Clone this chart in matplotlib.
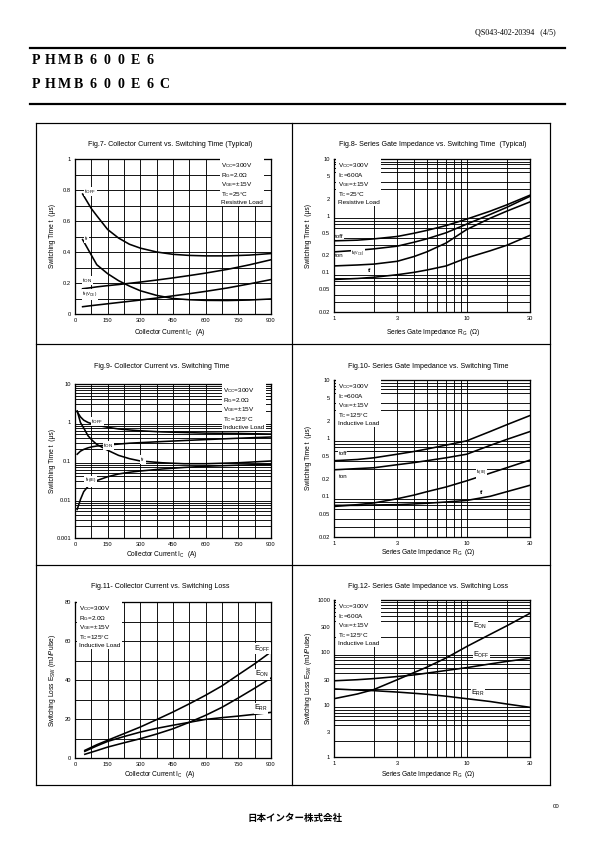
import matplotlib
matplotlib.use("Agg")
import matplotlib.pyplot as plt
from matplotlib.lines import Line2D
from matplotlib.ticker import FixedLocator, NullFormatter, LogLocator, MultipleLocator

plt.rcParams['font.family'] = ['Liberation Sans', 'DejaVu Sans']
plt.rcParams['mathtext.default'] = 'regular'

W, H = 595, 842

# ---------------- data ----------------
# Fig.7 Collector current vs switching time (typical, resistive, 25C)
ic7 = [35, 75, 100, 150, 200, 250, 300, 375, 450, 525, 600, 700, 800, 900]
toff7 = [0.774, 0.68, 0.634, 0.545, 0.49, 0.45, 0.425, 0.40, 0.385, 0.378, 0.375, 0.375, 0.38, 0.39]
tf7 = [0.48, 0.38, 0.318, 0.26, 0.215, 0.18, 0.15, 0.12, 0.10, 0.092, 0.088, 0.087, 0.09, 0.097]
ton7 = [0.163, 0.17, 0.175, 0.183, 0.19, 0.198, 0.206, 0.219, 0.233, 0.248, 0.264, 0.288, 0.317, 0.35]
tr7 = [0.047, 0.054, 0.058, 0.066, 0.074, 0.082, 0.09, 0.103, 0.117, 0.131, 0.146, 0.168, 0.194, 0.222]

# Fig.8 Series gate impedance vs switching time (typical, resistive, 25C)
rg8 = [1, 1.5, 2, 3, 4, 5, 7, 10, 15, 20, 30]
toff8 = [0.36, 0.37, 0.39, 0.43, 0.49, 0.55, 0.67, 0.87, 1.2, 1.55, 2.3]
ton8 = [0.23, 0.245, 0.26, 0.29, 0.34, 0.39, 0.5, 0.71, 1.05, 1.4, 2.2]
tr8 = [0.13, 0.135, 0.14, 0.157, 0.19, 0.23, 0.33, 0.57, 0.9, 1.2, 1.75]
tf8 = [0.075, 0.078, 0.082, 0.091, 0.1, 0.11, 0.13, 0.18, 0.24, 0.3, 0.45]

# Fig.9 Collector current vs switching time (inductive, 125C)
ic9 = [10, 25, 40, 60, 80, 100, 150, 200, 250, 300, 400, 500, 600, 750, 900]
toff9 = [1.9, 1.4, 1.15, 1.0, 0.92, 0.85, 0.75, 0.68, 0.64, 0.61, 0.57, 0.55, 0.53, 0.52, 0.5]
ton9 = [0.15, 0.18, 0.2, 0.22, 0.235, 0.245, 0.26, 0.275, 0.29, 0.3, 0.32, 0.34, 0.36, 0.39, 0.42]
tf9 = [2.0, 1.0, 0.72, 0.45, 0.34, 0.27, 0.19, 0.14, 0.115, 0.1, 0.09, 0.085, 0.085, 0.09, 0.1]
tr9 = [0.0055, 0.01, 0.016, 0.022, 0.027, 0.031, 0.039, 0.046, 0.051, 0.055, 0.062, 0.068, 0.073, 0.078, 0.082]

# Fig.10 Series gate impedance vs switching time (inductive, 125C)
rg10 = [1, 1.5, 2, 3, 4, 5, 7, 10, 15, 20, 30]
toff10 = [0.41, 0.43, 0.46, 0.53, 0.59, 0.65, 0.76, 0.9, 1.3, 1.7, 2.45]
ton10 = [0.286, 0.3, 0.31, 0.35, 0.38, 0.41, 0.46, 0.53, 0.75, 0.95, 1.3]
tr10 = [0.067, 0.072, 0.077, 0.091, 0.105, 0.12, 0.145, 0.185, 0.25, 0.31, 0.42]
tf10 = [0.07, 0.07, 0.071, 0.072, 0.074, 0.076, 0.08, 0.085, 0.1, 0.12, 0.155]

# Fig.11 Collector current vs switching loss
ic11 = [45, 100, 150, 225, 300, 375, 450, 525, 600, 675, 750, 825, 900]
eoff11 = [3.9, 6.8, 9.1, 12.5, 15.9, 19.7, 23.6, 27.8, 32.2, 37, 42.7, 48.3, 54.4]
eon11 = [1.9, 3.8, 5.6, 7.8, 9.9, 12.3, 15, 18.3, 21.9, 26, 30.8, 35.8, 41]
err11 = [3.4, 6.2, 8.5, 11, 13.3, 15.2, 16.8, 18.3, 19.8, 20.7, 21.5, 22.4, 23.4]

# Fig.12 Series gate impedance vs switching loss
rg12 = [1, 1.5, 2, 3, 4, 5, 7, 10, 15, 20, 30]
eon12 = [13, 16, 19.5, 30, 41, 52, 78, 129, 220, 320, 557]
eoff12 = [28.6, 30, 31.5, 34.5, 37, 40, 45, 51, 60, 67, 77]
err12 = [20, 19, 18.5, 17.4, 16.5, 15.8, 14.5, 13, 11.5, 10.3, 8.9]

ic_ticks = [0, 150, 300, 450, 600, 750, 900]
rg_ticks = [1, 3, 10, 30]
rg_ticklabels = ['1', '3', '10', '30']
t_lin_ticks = [0, 0.2, 0.4, 0.6, 0.8, 1]
t_lin_labels = ['0', '0.2', '0.4', '0.6', '0.8', '1']
t_log_ticks = [0.02, 0.05, 0.1, 0.2, 0.5, 1, 2, 5, 10]
t_log_labels = ['0.02', '0.05', '0.1', '0.2', '0.5', '1', '2', '5', '10']
t9_ticks = [0.001, 0.01, 0.1, 1, 10]
t9_labels = ['0.001', '0.01', '0.1', '1', '10']
e_lin_ticks = [0, 20, 40, 60, 80]
e_log_ticks = [1, 3, 10, 30, 100, 300, 1000]

cond7 = ['V$_{CC}$=300V', 'R$_G$=2.0Ω', 'V$_{GE}$=±15V', 'T$_C$=25°C', 'Resistive Load']
cond8 = ['V$_{CC}$=300V', 'I$_C$=600A', 'V$_{GE}$=±15V', 'T$_C$=25°C', 'Resistive Load']
cond9 = ['V$_{CC}$=300V', 'R$_G$=2.0Ω', 'V$_{GE}$=±15V', 'T$_C$=125°C', 'Inductive Load']
cond10 = ['V$_{CC}$=300V', 'I$_C$=600A', 'V$_{GE}$=±15V', 'T$_C$=125°C', 'Inductive Load']
cond11 = cond9
cond12 = cond10

part1 = 'PHMB600E6'
part2 = 'PHMB600E6C'

fig = plt.figure(figsize=(W / 72, H / 72), dpi=72)
fig.patch.set_facecolor('white')


def fx(x):
    return x / W


def fy(y):
    return 1 - y / H


def add_ax(x0, y0, x1, y1):
    return fig.add_axes([fx(x0), fy(y1), (x1 - x0) / W, (y1 - y0) / H])


def hline(y, x0, x1, lw=1.2):
    fig.add_artist(Line2D([fx(x0), fx(x1)], [fy(y), fy(y)], color='black', lw=lw))


def vline(x, y0, y1, lw=1.2):
    fig.add_artist(Line2D([fx(x), fx(x)], [fy(y0), fy(y1)], color='black', lw=lw))


TICK_FS = 5.8
LAB_FS = 6.6
TITLE_FS = 7.1
COND_FS = 6.4
CURVE_LW = 1.6
GRID_LW = 0.9


def style(ax):
    for s in ax.spines.values():
        s.set_linewidth(1.3)
    ax.tick_params(which='both', length=0, labelsize=TICK_FS, pad=4)
    ax.set_axisbelow(True)


def lin_x(ax):
    ax.set_xlim(0, 900)
    ax.set_xticks(ic_ticks)
    ax.set_xticklabels([str(v) for v in ic_ticks])
    ax.xaxis.set_minor_locator(MultipleLocator(75))
    ax.grid(True, which='both', axis='x', color='black', lw=GRID_LW)


def log_x(ax):
    ax.set_xscale('log')
    ax.set_xlim(1, 30)
    ax.xaxis.set_major_locator(FixedLocator(rg_ticks))
    ax.set_xticklabels(rg_ticklabels)
    ax.xaxis.set_minor_locator(LogLocator(base=10, subs=range(2, 10), numticks=20))
    ax.xaxis.set_minor_formatter(NullFormatter())
    ax.grid(True, which='both', axis='x', color='black', lw=GRID_LW)


def log_y(ax, lo, hi, ticks, labels):
    ax.set_yscale('log')
    ax.set_ylim(lo, hi)
    ax.yaxis.set_major_locator(FixedLocator(ticks))
    ax.set_yticklabels(labels)
    ax.yaxis.set_minor_locator(LogLocator(base=10, subs=range(1, 10), numticks=20))
    ax.yaxis.set_minor_formatter(NullFormatter())
    ax.grid(True, which='minor', axis='y', color='black', lw=GRID_LW)


def cond_box(ax, lines, xpos, ypos):
    txt = '\n'.join(lines)
    ax.text(xpos, ypos, txt, transform=ax.transAxes, ha='left', va='top',
            fontsize=COND_FS, linespacing=1.12, zorder=5,
            bbox=dict(facecolor='white', edgecolor='none', pad=1.5))


def titles(ax, title, xlabel, ylabel, xc, ty, xl_y, yl_x, yc):
    fig.text(fx(xc), fy(ty), title, ha='center', va='center', fontsize=TITLE_FS)
    fig.text(fx(xc), fy(xl_y), xlabel, ha='center', va='center', fontsize=LAB_FS)
    fig.text(fx(yl_x), fy(yc), ylabel, ha='center', va='center', fontsize=LAB_FS, rotation=90)


def lab(ax, x, y, s, fs=6.2):
    ax.text(x, y, s, fontsize=fs, ha='left', va='center', zorder=6,
            bbox=dict(facecolor='white', edgecolor='none', pad=0.3))


def spaced(text, x0, y, step=14.2):
    for i, ch in enumerate(text):
        fig.text(fx(x0 + step * i + step / 2), fy(y), ch, ha='center', va='center',
                 fontsize=14, fontweight='bold', family=['Liberation Serif'])


# ---------------- page frame & header ----------------
fig.text(fx(556), fy(32), 'QS043-402-20394   (4/5)', ha='right', va='center',
         fontsize=8, family=['Liberation Serif'])
hline(48, 30, 565, lw=2.2)
spaced(part1, 29, 61)
spaced(part2, 29, 85)
hline(104, 30, 565, lw=2.2)

FL, FR, FT, FB, FM = 36, 550, 123, 785, 291.5
hline(FT, FL, FR)
hline(FB, FL, FR)
vline(FL, FT, FB)
vline(FR, FT, FB)
vline(FM, FT, FB)
hline(343.5, FL, FR)
hline(564.5, FL, FR)

fig.text(fx(556), fy(806), '00', ha='center', va='center', fontsize=6)
fig.text(fx(295), fy(818), '日本インター株式会社', ha='center', va='center',
         fontsize=9.5, fontweight='bold', family=['Noto Sans CJK JP', 'DejaVu Sans'])

ylab_t = 'Switching Time t  (μs)'
ylab_e = 'Switching Loss E$_{SW}$ (mJ/Pulse)'
xlab_ic = 'Collector Current I$_C$  (A)'
xlab_rg = 'Series Gate Impedance R$_G$  (Ω)'

# ---------------- Fig.7 ----------------
ax = add_ax(75, 159, 271, 314)
style(ax)
lin_x(ax)
ax.set_ylim(0, 1)
ax.set_yticks(t_lin_ticks)
ax.set_yticklabels(t_lin_labels)
ax.yaxis.set_minor_locator(MultipleLocator(0.1))
ax.grid(True, which='both', axis='y', color='black', lw=GRID_LW)
for yv in (toff7, tf7, ton7, tr7):
    ax.plot(ic7, yv, color='black', lw=CURVE_LW, zorder=4)
cond_box(ax, cond7, 0.745, 0.985)
lab(ax, 42, 0.79, 't$_{OFF}$')
lab(ax, 42, 0.49, 't$_f$')
lab(ax, 33, 0.215, 't$_{ON}$')
lab(ax, 33, 0.125, 't$_{r(V_{CE})}$')
titles(ax, 'Fig.7- Collector Current vs. Switching Time (Typical)', xlab_ic, ylab_t,
       170, 145, 332, 52, 236)

# ---------------- Fig.8 ----------------
ax = add_ax(334, 159, 530, 312)
style(ax)
log_x(ax)
log_y(ax, 0.02, 10, t_log_ticks, t_log_labels)
for yv in (toff8, ton8, tr8, tf8):
    ax.plot(rg8, yv, color='black', lw=CURVE_LW, zorder=4)
cond_box(ax, cond8, 0.02, 0.985)
lab(ax, 1.02, 0.43, 'toff')
lab(ax, 1.02, 0.2, 'ton')
lab(ax, 1.35, 0.215, 't$_{r(V_{CE})}$', fs=5.2)
lab(ax, 1.8, 0.11, 'tf')
titles(ax, 'Fig.8- Series Gate Impedance vs. Switching Time  (Typical)', xlab_rg, ylab_t,
       433, 145, 332, 308, 236)

# ---------------- Fig.9 ----------------
ax = add_ax(75, 384, 271, 538)
style(ax)
lin_x(ax)
log_y(ax, 0.001, 10, t9_ticks, t9_labels)
for yv in (toff9, ton9, tf9, tr9):
    ax.plot(ic9, yv, color='black', lw=CURVE_LW, zorder=4)
cond_box(ax, cond9, 0.755, 0.985)
lab(ax, 75, 1.05, 't$_{OFF}$')
lab(ax, 130, 0.25, 't$_{ON}$')
lab(ax, 300, 0.11, 't$_f$')
lab(ax, 45, 0.03, 't$_{r(IE)}$')
titles(ax, 'Fig.9- Collector Current vs. Switching Time', xlab_ic, ylab_t,
       162, 367, 555, 52, 461)

# ---------------- Fig.10 ----------------
ax = add_ax(334, 380, 530, 537)
style(ax)
log_x(ax)
log_y(ax, 0.02, 10, t_log_ticks, t_log_labels)
for yv in (toff10, ton10, tr10, tf10):
    ax.plot(rg10, yv, color='black', lw=CURVE_LW, zorder=4)
cond_box(ax, cond10, 0.02, 0.985)
lab(ax, 1.08, 0.55, 'toff')
lab(ax, 1.08, 0.22, 'ton')
lab(ax, 11.8, 0.25, 't$_{r(IE)}$', fs=5.4)
lab(ax, 12.5, 0.115, 'tf')
titles(ax, 'Fig.10- Series Gate Impedance vs. Switching Time', xlab_rg, ylab_t,
       428, 367, 553, 308, 458)

# ---------------- Fig.11 ----------------
ax = add_ax(75, 602, 271, 758)
style(ax)
lin_x(ax)
ax.set_ylim(0, 80)
ax.set_yticks(e_lin_ticks)
ax.set_yticklabels([str(v) for v in e_lin_ticks])
ax.yaxis.set_minor_locator(MultipleLocator(10))
ax.grid(True, which='both', axis='y', color='black', lw=GRID_LW)
for yv in (eoff11, eon11, err11):
    ax.plot(ic11, yv, color='black', lw=CURVE_LW, zorder=4)
cond_box(ax, cond11, 0.02, 0.985)
lab(ax, 822, 56, 'E$_{OFF}$', fs=7.2)
lab(ax, 828, 43, 'E$_{ON}$', fs=7.2)
lab(ax, 822, 25.5, 'E$_{RR}$', fs=7.2)
titles(ax, 'Fig.11- Collector Current vs. Switching Loss', xlab_ic, ylab_e,
       160, 587, 775, 52, 680)

# ---------------- Fig.12 ----------------
ax = add_ax(334, 600, 530, 757)
style(ax)
log_x(ax)
log_y(ax, 1, 1000, e_log_ticks, [str(v) for v in e_log_ticks])
for yv in (eon12, eoff12, err12):
    ax.plot(rg12, yv, color='black', lw=CURVE_LW, zorder=4)
cond_box(ax, cond12, 0.02, 0.985)
lab(ax, 11.2, 320, 'E$_{ON}$', fs=7.2)
lab(ax, 11.2, 90, 'E$_{OFF}$', fs=7.2)
lab(ax, 10.8, 17, 'E$_{RR}$', fs=7.2)
titles(ax, 'Fig.12- Series Gate Impedance vs. Switching Loss', xlab_rg, ylab_e,
       428, 587, 775, 308, 678)

fig.savefig('out.png', dpi=72)
